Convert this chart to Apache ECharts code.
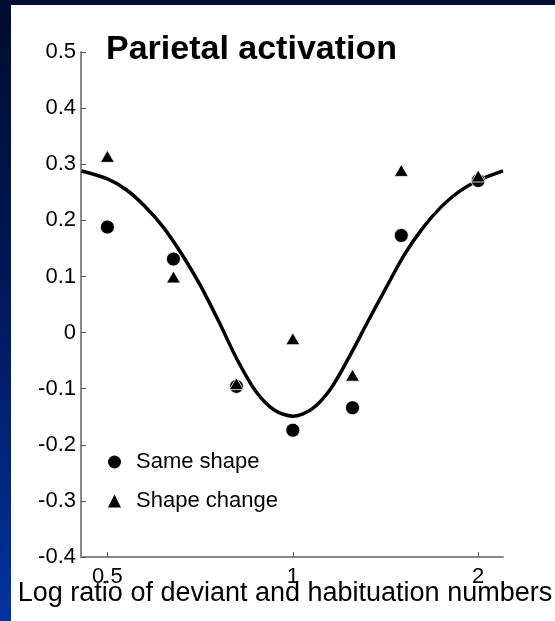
<!DOCTYPE html>
<html>
<head>
<meta charset="utf-8">
<script src="https://cdn.jsdelivr.net/npm/echarts@6/dist/echarts.min.js"></script>
<style>
  html, body { margin: 0; padding: 0; }
  body {
    width: 555px; height: 621px; overflow: hidden; position: relative;
    background: linear-gradient(to bottom, #000c30 0%, #001a5e 50%, #00349f 100%);
  }
  #chart {
    position: absolute; left: 11px; top: 5px; width: 544px; height: 616px;
    background: #ffffff;
  }
</style>
</head>
<body>
<div id="chart"></div>
<script>
// Deviant / habituation number ratios (log-spaced conditions)
const ratios = [0.5, 0.64, 0.81, 1, 1.25, 1.5, 2];
// Parietal response for each condition
const sameShape   = [0.188, 0.131, -0.096, -0.174, -0.134, 0.173, 0.271];
const shapeChange = [0.314, 0.099, -0.091, -0.011, -0.076, 0.289, 0.279];

// Fitted tuning curve, sampled along the ratio axis
const curveX = [0.454, 0.5, 0.536, 0.574, 0.616, 0.66, 0.707, 0.758, 0.812, 0.871, 0.933, 1,
                1.072, 1.149, 1.231, 1.32, 1.414, 1.516, 1.625, 1.741, 1.866, 2, 2.194];
const curveY = [0.288, 0.274, 0.255, 0.226, 0.188, 0.140, 0.085, 0.020, -0.048, -0.105, -0.138, -0.149,
                -0.137, -0.102, -0.046, 0.017, 0.078, 0.138, 0.186, 0.224, 0.252, 0.271, 0.288];

const xTicks = [0.5, 1, 2];
const xRange = [0.453, 2.194];
const yRange = [-0.4, 0.5];

const font = "'Liberation Sans', Arial, Helvetica, sans-serif";

const pairs = (xs, ys) => xs.map((x, i) => [x, ys[i]]);

const chart = echarts.init(document.getElementById('chart'), null, { renderer: 'canvas' });

chart.setOption({
  animation: false,
  backgroundColor: '#ffffff',
  title: {
    text: 'Parietal activation',
    left: 95,
    top: 28,
    padding: 0,
    textStyle: { fontFamily: font, fontSize: 34, fontWeight: 'bold', color: '#000' }
  },
  legend: {
    orient: 'vertical',
    left: 97,
    top: 446,
    padding: 0,
    itemWidth: 13,
    itemHeight: 13,
    itemGap: 17,
    textStyle: { fontFamily: font, fontSize: 22, color: '#000', padding: [0, 0, 0, 10] },
    data: [
      { name: 'Same shape', icon: 'circle', itemStyle: { color: '#000', borderWidth: 0 } },
      { name: 'Shape change', icon: 'triangle', itemStyle: { color: '#000', borderWidth: 0 } }
    ]
  },
  grid: { left: 70, top: 47, right: 52, bottom: 64, containLabel: false, outerBoundsMode: 'none' },
  xAxis: {
    type: 'log',
    logBase: 2,
    min: xRange[0],
    max: xRange[1],
    name: 'Log ratio of deviant and habituation numbers',
    nameLocation: 'middle',
    nameGap: 23,
    nameMoveOverlap: false,
    nameTextStyle: { fontFamily: font, fontSize: 27, color: '#000', padding: [0, 14, 0, 0] },
    axisLine: { onZero: false, lineStyle: { color: '#888', width: 2 } },
    axisTick: { inside: true, length: 5, customValues: xTicks, lineStyle: { color: '#555', width: 1 } },
    axisLabel: {
      customValues: xTicks,
      margin: 9,
      fontFamily: font, fontSize: 22, color: '#000',
      formatter: v => String(v)
    },
    splitLine: { show: false }
  },
  yAxis: {
    type: 'value',
    min: yRange[0],
    max: yRange[1],
    interval: 0.1,
    axisLine: { show: true, onZero: false, lineStyle: { color: '#888', width: 2 } },
    axisTick: { show: true, inside: true, length: 5, lineStyle: { color: '#555', width: 1 } },
    axisLabel: {
      margin: 5,
      fontFamily: font, fontSize: 22, color: '#000',
      formatter: v => {
        const r = Math.round(v * 10) / 10;
        return r === 0 ? '0' : r.toFixed(1);
      }
    },
    splitLine: { show: false }
  },
  series: [
    {
      name: 'fit',
      type: 'line',
      data: pairs(curveX, curveY),
      smooth: 0.3,
      showSymbol: false,
      symbol: 'none',
      lineStyle: { color: '#000', width: 3.5 },
      z: 1
    },
    {
      name: 'Same shape',
      type: 'scatter',
      data: pairs(ratios, sameShape),
      symbol: 'circle',
      symbolSize: 14,
      itemStyle: { color: '#000', borderColor: '#fff', borderWidth: 0.8, opacity: 1 },
      z: 2
    },
    {
      name: 'Shape change',
      type: 'scatter',
      data: pairs(ratios, shapeChange),
      symbol: 'triangle',
      symbolSize: [14, 12],
      itemStyle: { color: '#000', borderColor: '#fff', borderWidth: 0.8, opacity: 1 },
      z: 3
    }
  ]
});
</script>
</body>
</html>
